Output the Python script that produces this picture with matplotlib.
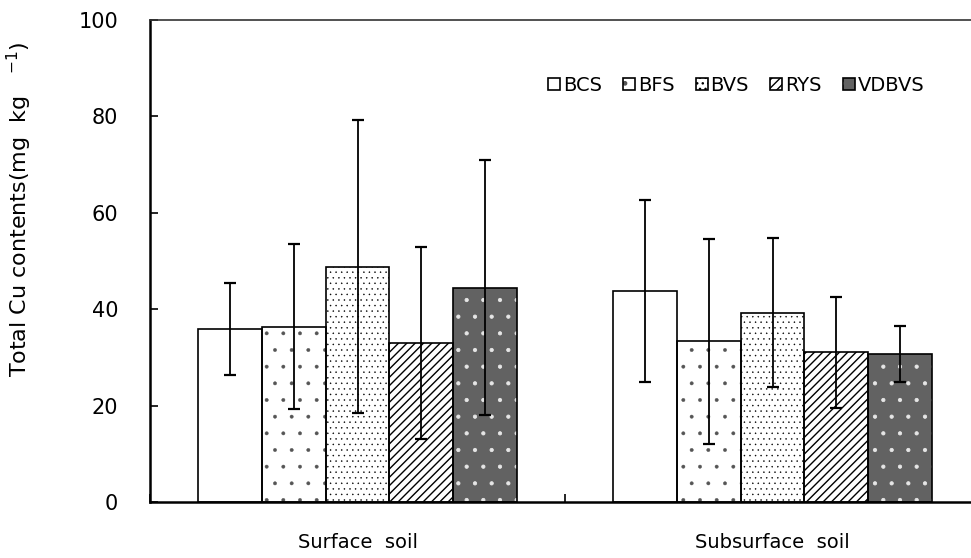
import matplotlib.pyplot as plt
import numpy as np

plt.rcParams['font.family'] = ['DejaVu Sans']
plt.rcParams['mathtext.default'] = 'regular'

groups = ["Surface  soil", "Subsurface  soil"]
soils = ["BCS", "BFS", "BVS", "RYS", "VDBVS"]

# mean and standard deviation, mg/kg
bcs_mean = [35.9, 43.8]
bcs_err = [9.6, 18.8]
bfs_mean = [36.4, 33.3]
bfs_err = [17.2, 21.2]
bvs_mean = [48.8, 39.3]
bvs_err = [30.4, 15.5]
rys_mean = [33.0, 31.1]
rys_err = [19.9, 11.5]
vdbvs_mean = [44.5, 30.7]
vdbvs_err = [26.4, 5.8]

means = [bcs_mean, bfs_mean, bvs_mean, rys_mean, vdbvs_mean]
errs = [bcs_err, bfs_err, bvs_err, rys_err, vdbvs_err]

# fill colour, hatch, hatch colour, hatch line width
styles = [
    ('white', '', 'black', 1.0),
    ('white', '.', '#555555', 0.3),
    ('white', '...', 'black', 0.3),
    ('white', '////', 'black', 1.0),
    ('#626262', '.', '#e6e6e6', 0.6),
]

fig = plt.figure(figsize=(9.71, 5.58), dpi=100)
ax = fig.add_axes([150 / 971, 1 - 502 / 558, 830 / 971, 482 / 558])

x = np.arange(len(groups))
width = 0.1542
handles = []
for i, soil in enumerate(soils):
    face, hatch, hcol, hlw = styles[i]
    pos = x + (i - 2) * width
    with plt.rc_context({'hatch.linewidth': hlw}):
        fill = ax.bar(pos, means[i], width, color=face, edgecolor=hcol,
                      hatch=hatch, linewidth=0, zorder=2)
    edge = ax.bar(pos, means[i], width, fill=False, edgecolor='black',
                  linewidth=1.2, zorder=3)
    ax.errorbar(pos, means[i], yerr=errs[i], fmt='none', ecolor='black',
                elinewidth=1.3, capsize=4.3, capthick=1.6, zorder=4)
    handles.append((fill[0], edge[0]))

ax.set_xlim(-0.5, 1.5)
ax.set_ylim(0, 100)
ax.set_yticks([0, 20, 40, 60, 80, 100])
ax.tick_params(axis='y', direction='in', length=6, width=1.2, pad=23,
               labelsize=15)
ax.set_xticks(x)
ax.set_xticklabels(groups)
ax.set_xticks([-0.5, 0.5, 1.5], minor=True)
ax.tick_params(axis='x', which='major', length=0, pad=22, labelsize=14)
ax.tick_params(axis='x', which='minor', direction='in', length=6, width=1.2)

ax.set_ylabel('Total Cu contents(mg  kg   $^{-1}$)', fontsize=16)
ax.yaxis.set_label_coords(-0.14, 0.608)

for side in ['left', 'bottom']:
    ax.spines[side].set_linewidth(1.8)
ax.spines['top'].set_linewidth(1.2)
ax.spines['top'].set_color('#333333')
ax.spines['right'].set_linewidth(1.2)

ax.legend(handles, soils, loc='center left', bbox_to_anchor=(0.48, 0.865),
          ncol=5, frameon=False, fontsize=14, handlelength=0.6,
          handleheight=0.6, handletextpad=0.15, columnspacing=1.1,
          borderpad=0, borderaxespad=0)

plt.savefig('out.png', dpi=100)
